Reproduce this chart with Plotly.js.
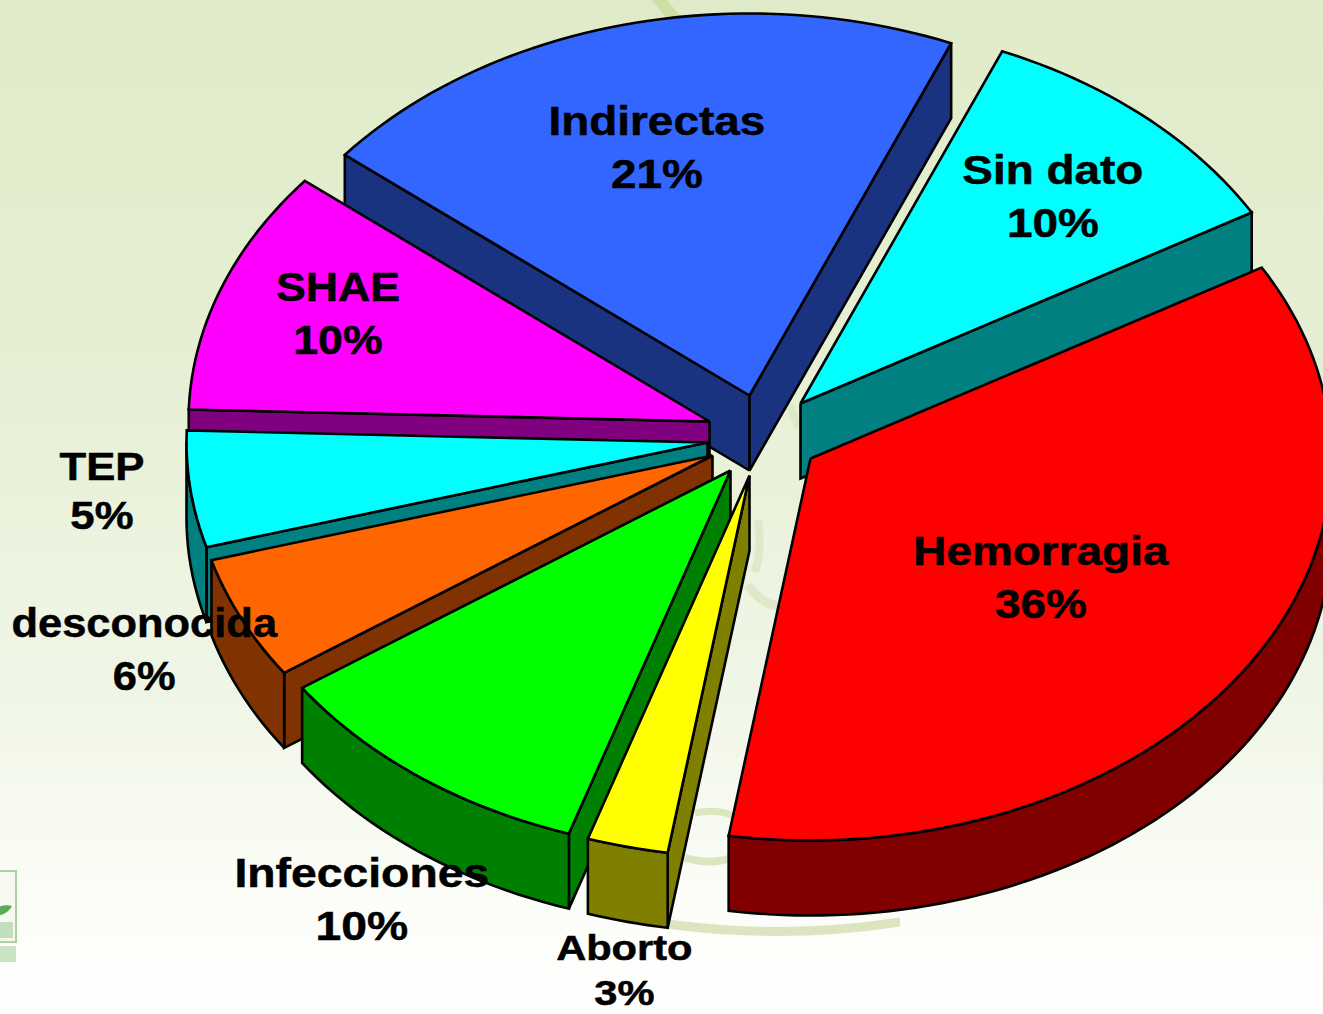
<!DOCTYPE html>
<html>
<head>
<meta charset="utf-8">
<script src="https://cdn.plot.ly/plotly-3.0.1.min.js"></script>
<style>
html,body{margin:0;padding:0;width:1323px;height:1014px;overflow:hidden;
background:linear-gradient(to bottom,#dfebc8 0%,#e6efd4 35%,#f0f6e6 68%,#fdfefa 92%,#ffffff 100%);}
#chart{width:1323px;height:1014px;}
.annotation-text{stroke:#000;stroke-width:0.5px;}
</style>
</head>
<body>
<div id="chart"></div>
<script>
// Data
const categories = ['Hemorragia','Aborto','Infecciones','desconocida','TEP','SHAE','Indirectas','Sin dato'];
const sliceShares = [35.7, 2.5, 10.3, 5.2, 4.9, 10.3, 20.4, 10.3];
const shownPercent = [36, 3, 10, 6, 5, 10, 21, 10];

// Styles
const topColors  = ['#ff0000','#ffff00','#00ff00','#ff6600','#00ffff','#ff00ff','#3366ff','#00ffff'];
const sideColors = ['#800000','#808000','#008000','#803300','#008080','#800080','#1a3380','#008080'];
const explodeX = [55,-6,-25,-43,-48,-46,-6,45];
const explodeY = [30,47,42,27,14,-7,-33,-25];
const labelX = [1041,624,362,145,102,338,657,1053];
const labelY = [577,970,899,649,491,313,147,196];
const labelSize = [41,35,41,41,38,41,41,41];
const labelStretch = [1.12,1.19,1.13,1.06,1.15,1.09,1.12,1.12];

// Pie geometry
const cx = 755.5, cy = 428.5, rx = 521, ry = 382, depth = 75, startDeg = -30;

const total = sliceShares.reduce((a,b)=>a+b,0);
let acc = startDeg;
const slices = categories.map((name,i)=>{
  const sweep = sliceShares[i]/total*360;
  const s = {i,name,t0:acc,t1:acc+sweep,ax:cx+explodeX[i],ay:cy+explodeY[i]};
  acc += sweep;
  s.mid = (s.t0+s.t1)/2;
  return s;
});
const rad = d=>d*Math.PI/180;
function arc(s,t0,t1){
  const n = Math.max(8,Math.ceil((t1-t0)/1.5));
  const pts=[];
  for(let k=0;k<=n;k++){
    const t=rad(t0+(t1-t0)*k/n);
    pts.push([s.ax+rx*Math.cos(t),s.ay+ry*Math.sin(t)]);
  }
  return pts;
}
function poly(pts,fill,name){
  return {type:'scatter',mode:'lines',name,x:pts.map(p=>p[0]),y:pts.map(p=>p[1]),
    fill:'toself',fillcolor:fill,line:{color:'#000',width:2.6,simplify:false},hoverinfo:'name',showlegend:false};
}
const traces=[];
// back-to-front painter's order; only walls that face the viewer are drawn
[...slices].sort((a,b)=>Math.sin(rad(a.mid))-Math.sin(rad(b.mid))).forEach(s=>{
  const a=arc(s,s.t0,s.t1), A=[s.ax,s.ay], first=a[0], last=a[a.length-1], down=p=>[p[0],p[1]+depth];
  const side=sideColors[s.i];
  if(Math.cos(rad(s.t0))<0) traces.push(poly([A,first,down(first),down(A),A],side,s.name));
  if(Math.cos(rad(s.t1))>0) traces.push(poly([A,last,down(last),down(A),A],side,s.name));
  const r0=Math.max(s.t0,0), r1=Math.min(s.t1,180);
  if(r1>r0){
    const r=arc(s,r0,r1);
    traces.push(poly(r.concat(r.map(down).reverse(),[r[0]]),side,s.name));
  }
  traces.push(poly([A,...a,A],topColors[s.i],s.name));
});

const swoosh = (path,width,color)=>({type:'path',path,layer:'below',xref:'x',yref:'y',
  line:{color:color||'#dbe6c0',width},fillcolor:'rgba(0,0,0,0)'});
const shapes=[
  swoosh('M 656 -4 L 676 20',12,'#cfe0a6'),
  swoosh('M 600 912 Q 750 945 900 922',9),
  swoosh('M 695 813 Q 722 808 736 818',7),
  swoosh('M 685 858 Q 715 866 736 856',8),
  swoosh('M 758 520 Q 762 550 755 572',8,'#dfe8c8'),
  swoosh('M 748 585 Q 765 610 790 606',9,'#dfe8c8'),
  swoosh('M 790 405 L 798 428',7,'#dfe8c8'),
  {type:'rect',layer:'below',xref:'x',yref:'y',x0:-3,x1:16,y0:871,y1:942,line:{color:'#a9d2a2',width:2},fillcolor:'#f5f9f0'},
  {type:'rect',layer:'below',xref:'x',yref:'y',x0:-3,x1:16,y0:946,y1:962,line:{color:'rgba(0,0,0,0)',width:0},fillcolor:'#cbe3c5'},
  {type:'rect',layer:'below',xref:'x',yref:'y',x0:-3,x1:13,y0:922,y1:938,line:{color:'rgba(0,0,0,0)',width:0},fillcolor:'#c0dfba'},
  {type:'path',layer:'below',xref:'x',yref:'y',path:'M -3 916 Q 8 914 12 906 Q 4 904 -3 908 Z',line:{width:0},fillcolor:'#5aab5a'}
];

const annotations = slices.map(s=>({
  x:labelX[s.i],y:labelY[s.i],xref:'x',yref:'y',xanchor:'center',yanchor:'middle',
  showarrow:false,align:'center',
  text:s.name+'<br>'+shownPercent[s.i]+'%',
  font:{family:'"Liberation Sans",Arial,sans-serif',size:labelSize[s.i],color:'#000',weight:700}
}));

const layout={
  width:1323,height:1014,margin:{l:0,r:0,t:0,b:0},
  paper_bgcolor:'rgba(0,0,0,0)',plot_bgcolor:'rgba(0,0,0,0)',showlegend:false,
  xaxis:{range:[0,1323],visible:false,fixedrange:true},
  yaxis:{range:[1014,0],visible:false,fixedrange:true},
  shapes,annotations
};
Plotly.newPlot('chart',traces,layout,{displayModeBar:false,staticPlot:true}).then(gd=>{
  gd.querySelectorAll('.annotation-text').forEach((t,k)=>{
    const b=t.getBBox(), c=b.x+b.width/2;
    t.setAttribute('transform','translate('+c+' 0) scale('+labelStretch[k]+' 1) translate('+(-c)+' 0)');
  });
});
</script>
</body>
</html>
